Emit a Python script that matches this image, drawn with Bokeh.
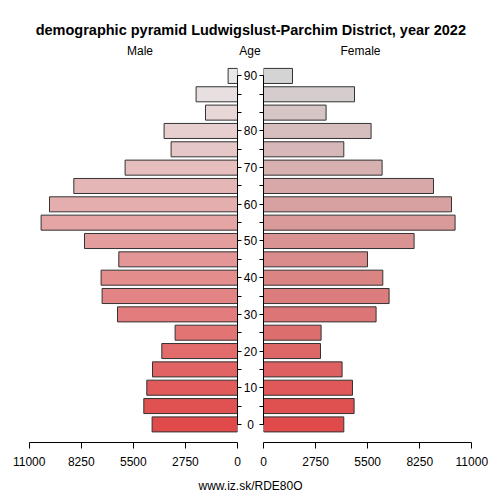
from bokeh.plotting import figure
from bokeh.models import Range1d, FixedTicker, Label, NumeralTickFormatter
from bokeh.layouts import column, row
from bokeh.embed import file_html
from bokeh.resources import INLINE
from bokeh.core.properties import value

# ---------------- data ----------------
age_groups = ["0-4", "5-9", "10-14", "15-19", "20-24", "25-29", "30-34", "35-39",
              "40-44", "45-49", "50-54", "55-59", "60-64", "65-69", "70-74",
              "75-79", "80-84", "85-89", "90-94", "95+"]
male = [4509, 4947, 4789, 4488, 3997, 3295, 6336, 7149, 7202, 6267,
        8078, 10370, 9926, 8643, 5935, 3506, 3876, 1690, 2186, 496]
female = [4240, 4784, 4699, 4150, 3010, 3041, 5945, 6632, 6299, 5491,
          7952, 10116, 9926, 8976, 6262, 4240, 5681, 3305, 4805, 1531]
x_ticks = [0, 2750, 5500, 8250, 11000]
age_tick_pos = [0, 2, 4, 6, 8, 10, 12, 14, 16, 19]
age_tick_labels = ["0", "10", "20", "30", "40", "50", "60", "70", "80", "90"]

title_text = "demographic pyramid Ludwigslust-Parchim District, year 2022"
footer_text = "www.iz.sk/RDE80O"

# ---------------- style ----------------
FONT = "Liberation Sans"
n = len(age_groups)
idx = list(range(n))


def ramp(c0, c1, k):
    out = []
    for i in range(k):
        t = i / (k - 1)
        c = [round(a + (b - a) * t) for a, b in zip(c0, c1)]
        out.append("#%02x%02x%02x" % tuple(c))
    return out


male_colors = ramp((224, 74, 74), (232, 232, 232), n)
female_colors = ramp((224, 74, 74), (212, 212, 212), n)

TOTAL_W = 500
FRAME_W = 237
GAP = 5
FRAME_H = 376
BOTTOM = 34
TOP_H = 66
FOOT_H = 500 - TOP_H - FRAME_H - BOTTOM
XMAX = 11000 * FRAME_W / 208.33
Y0 = -0.987
Y1 = Y0 + FRAME_H / 18.34
H = FRAME_H + BOTTOM
yr = Range1d(Y0, Y1)


def style_panel(p):
    p.xgrid.visible = False
    p.ygrid.visible = False
    p.outline_line_color = None
    p.background_fill_color = "white"
    p.border_fill_color = "white"
    xa = p.xaxis[0]
    xa.ticker = FixedTicker(ticks=x_ticks)
    xa.bounds = (0, 11000)
    xa.formatter = NumeralTickFormatter(format="0")
    xa.major_tick_out = 6
    xa.major_tick_in = 0
    xa.minor_tick_line_color = None
    xa.major_label_standoff = 8
    xa.major_label_text_font = FONT
    xa.major_label_text_font_size = "12px"
    xa.major_label_text_color = "black"
    xa.axis_line_color = "black"
    xa.major_tick_line_color = "black"
    ya = p.yaxis[0]
    ya.ticker = FixedTicker(ticks=idx)
    ya.bounds = (0, n - 1)
    ya.major_label_overrides = {i: "" for i in idx}
    ya.major_label_standoff = 0
    ya.major_tick_out = 4
    ya.major_tick_in = 0
    ya.minor_tick_line_color = None
    ya.axis_line_color = "black"
    ya.major_tick_line_color = "black"


male_fig = figure(width=FRAME_W + GAP, height=H, x_range=Range1d(XMAX, 0), y_range=yr,
                  output_backend="svg", toolbar_location=None, title=None,
                  y_axis_location="right", x_axis_location="below",
                  min_border_left=0, min_border_right=GAP, min_border_top=0,
                  min_border_bottom=BOTTOM)
style_panel(male_fig)
male_fig.hbar(y=idx, left=0, right=male, height=0.82, fill_color=male_colors,
              line_color="#333333", line_width=1)

female_fig = figure(width=FRAME_W + GAP, height=H, x_range=Range1d(0, XMAX), y_range=yr,
                    output_backend="svg", toolbar_location=None, title=None,
                    y_axis_location="left", x_axis_location="below",
                    min_border_left=GAP, min_border_right=0, min_border_top=0,
                    min_border_bottom=BOTTOM)
style_panel(female_fig)
female_fig.hbar(y=idx, left=0, right=female, height=0.82, fill_color=female_colors,
                line_color="#333333", line_width=1)

mid_fig = figure(width=TOTAL_W - 2 * (FRAME_W + GAP), height=H, x_range=Range1d(-1, 1), y_range=yr,
                 output_backend="svg", toolbar_location=None, title=None,
                 x_axis_location=None, y_axis_location=None,
                 min_border_left=0, min_border_right=0, min_border_top=0,
                 min_border_bottom=BOTTOM)
mid_fig.xgrid.visible = False
mid_fig.ygrid.visible = False
mid_fig.outline_line_color = None
mid_fig.text(x=[0] * len(age_tick_pos), y=age_tick_pos, text=age_tick_labels,
             text_align="center", text_baseline="middle",
             text_font=value(FONT), text_font_size="12px", text_color="black")

top_fig = figure(width=TOTAL_W, height=TOP_H, x_range=Range1d(0, TOTAL_W), y_range=Range1d(0, TOP_H),
                 output_backend="svg", toolbar_location=None, title=None,
                 x_axis_location=None, y_axis_location=None, min_border=0)
top_fig.xgrid.visible = False
top_fig.ygrid.visible = False
top_fig.outline_line_color = None
top_fig.add_layout(Label(x=250.3, y=TOP_H - 29.7, text=title_text, text_align="center",
                         text_baseline="middle", text_font=FONT, text_font_size="14.5px",
                         text_font_style="bold", text_color="black"))
for txt, xx in [("Male", 139.5), ("Age", 249.5), ("Female", 360)]:
    top_fig.add_layout(Label(x=xx, y=TOP_H - 50.7, text=txt, text_align="center",
                             text_baseline="middle", text_font=FONT, text_font_size="12px",
                             text_color="black"))

foot_fig = figure(width=TOTAL_W, height=FOOT_H, x_range=Range1d(0, TOTAL_W), y_range=Range1d(0, FOOT_H),
                  output_backend="svg", toolbar_location=None, title=None,
                  x_axis_location=None, y_axis_location=None, min_border=0)
foot_fig.xgrid.visible = False
foot_fig.ygrid.visible = False
foot_fig.outline_line_color = None
foot_fig.add_layout(Label(x=250, y=FOOT_H - 9, text=footer_text, text_align="center",
                          text_baseline="middle", text_font=FONT, text_font_size="12px",
                          text_color="black"))

layout = column(top_fig, row(male_fig, mid_fig, female_fig), foot_fig)

with open("out.html", "w") as f:
    f.write(file_html(layout, INLINE))
